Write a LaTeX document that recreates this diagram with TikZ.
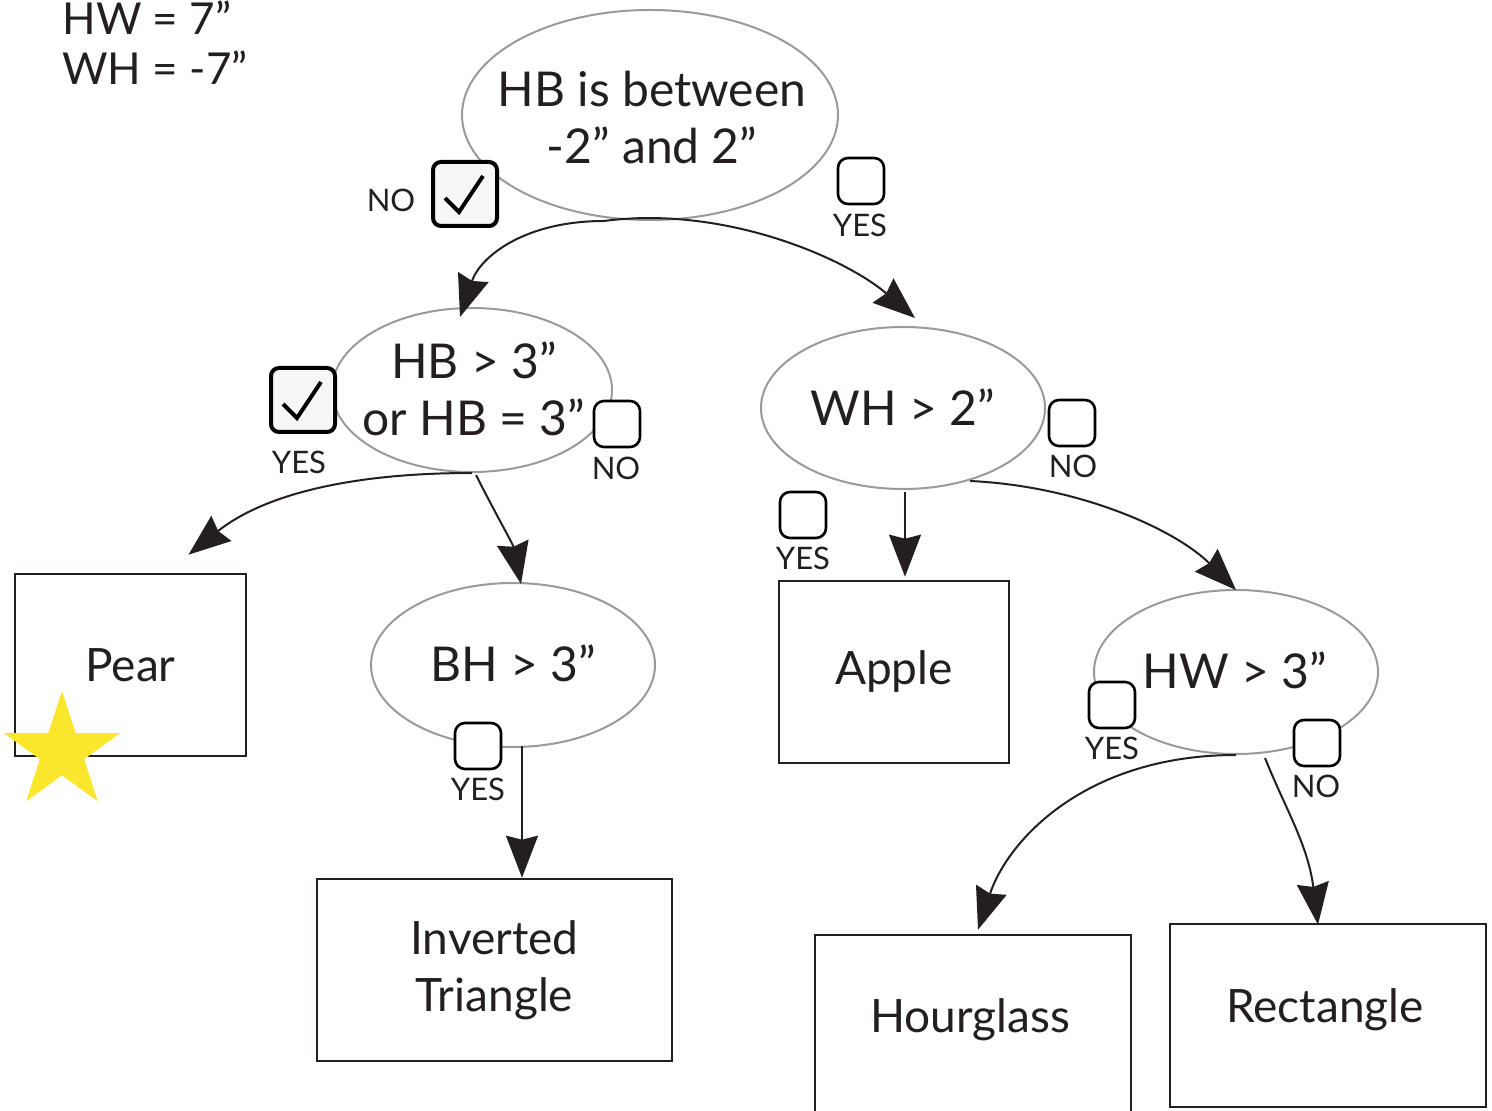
\documentclass[tikz,border=0pt]{standalone}
\usepackage{fontspec}
\setmainfont{Lato}
\usetikzlibrary{shapes.geometric,arrows.meta,calc}
\definecolor{starY}{HTML}{FBE62E}
\definecolor{ellG}{HTML}{9A9A9A}
\definecolor{inkK}{HTML}{231F20}
\tikzset{
  big/.style={font=\fontsize{24pt}{28.5pt}\selectfont},
  mid/.style={font=\fontsize{23pt}{28.5pt}\selectfont},
  small/.style={font=\fontsize{15.5pt}{18pt}\selectfont, text=inkK},
  oval/.style={ellipse, draw=ellG, line width=1pt, inner sep=0pt},
  ovaltext/.style={align=center, big, text=inkK, inner sep=0pt},
  leaf/.style={rectangle, draw=inkK, line width=1.3pt, inner sep=0pt, align=center, mid, text=inkK},
  cbox/.style={rectangle, draw=black, rounded corners=5pt, line width=1.3pt, minimum size=23pt, inner sep=0pt, fill=white},
  cboxon/.style={rectangle, draw=black, rounded corners=4pt, line width=2pt, minimum size=32pt, inner sep=0pt, fill=gray!6},
  conn/.style={draw=inkK, line width=1pt, -{Stealth[length=21pt,width=16pt,inset=2pt]}},
  tick/.style={draw=black, line width=2pt, line join=miter}
}
\begin{document}
\begin{tikzpicture}[x=0.5pt,y=-0.5pt]
\useasboundingbox (0,0) rectangle (1492,1111);
% top-left values
\node[anchor=west, font=\fontsize{22pt}{26pt}\selectfont, text=inkK, inner sep=0pt] (hw) at (62,18) {HW = 7”};
\node[anchor=west, font=\fontsize{22pt}{26pt}\selectfont, text=inkK, inner sep=0pt] (wh) at (62,68) {WH = -7”};

% decision ellipses
\node[oval, minimum width=188pt, minimum height=105pt] (e1) at (650,115) {};
\node[ovaltext] (t1) at (652,118) {HB is between\\-2” and 2”};
\node[oval, minimum width=140pt, minimum height=82pt] (e2) at (472,390) {};
\node[ovaltext] (t2) at (474,389) {HB > 3”\\or HB = 3”};
\node[oval, minimum width=142pt, minimum height=81pt] (e3) at (903,408) {};
\node[ovaltext] (t3) at (903,407) {WH > 2”};
\node[oval, minimum width=142pt, minimum height=82pt] (e4) at (513,665) {};
\node[ovaltext] (t4) at (513,663) {BH > 3”};
\node[oval, minimum width=142pt, minimum height=82pt] (e5) at (1236,672) {};
\node[ovaltext] (t5) at (1235,670) {HW > 3”};

% leaves
\node[leaf, minimum width=115.5pt, minimum height=91pt] (pear) at (130.5,665) {Pear};
\node[leaf, minimum width=115pt, minimum height=91pt] (apple) at (894,672) {Apple};
\node[leaf, minimum width=177.5pt, minimum height=91pt] (it) at (494.5,970) {Inverted\\Triangle};
\node[leaf, minimum width=158pt, minimum height=91pt] (hg) at (973,1026) {};
\node[mid, text=inkK, inner sep=0pt] (hgt) at (970,1020) {Hourglass};
\node[leaf, minimum width=158pt, minimum height=91.5pt] (rect) at (1328,1015.5) {};
\node[mid, text=inkK, inner sep=0pt] (rectt) at (1325,1010) {Rectangle};

% star
\node[star, star points=5, star point ratio=2.618, fill=starY, minimum size=61pt, inner sep=0pt] (st) at (62,752) {};

% checkboxes
\node[cboxon] (c1) at (465,194) {};
\draw[tick] ($(c1.center)+(-20,4)$) -- ($(c1.center)+(-6,18)$) -- ($(c1.center)+(18,-18)$);
\node[small] (l1) at (391,200) {NO};
\node[cbox] (c2) at (861,181) {};
\node[small] (l2) at (860,225) {YES};

\node[cboxon] (c3) at (303,400) {};
\draw[tick] ($(c3.center)+(-20,4)$) -- ($(c3.center)+(-6,18)$) -- ($(c3.center)+(18,-18)$);
\node[small] (l3) at (299,462) {YES};
\node[cbox] (c4) at (617,424) {};
\node[small] (l4) at (616,468) {NO};

\node[cbox] (c5) at (1072,423) {};
\node[small] (l5) at (1073,466) {NO};
\node[cbox] (c6) at (803,515) {};
\node[small] (l6) at (803,558) {YES};

\node[cbox] (c7) at (478,746) {};
\node[small] (l7) at (478,789) {YES};

\node[cbox] (c8) at (1112,705) {};
\node[small] (l8) at (1112,748) {YES};
\node[cbox] (c9) at (1317,743) {};
\node[small] (l9) at (1316,786) {NO};

% connector end points
\coordinate (a5s) at ($(e4.south)+(9,-2)$);
\coordinate (a5e) at (a5s |- it.north);
\coordinate (a6s) at ($(e3.south)+(2,2)$);
\coordinate (a6e) at ($(a6s |- apple.north)+(0,-3)$);

% connectors
\draw[conn] ($(e1.south)+(-46,0)$) .. controls +(-80,0) and +(20,-60) .. ($(e2.north)+(-12,10)$);
\draw[conn] ($(e1.south)+(-46,0)$) .. controls +(120,-16) and +(-70,-60) .. ($(e3.north)+(12,-8)$);
\draw[conn] (e2.south) .. controls +(-170,0) and +(50,-40) .. ($(pear.north)+(58,-18)$);
\draw[conn] ($(e2.south)+(4,2)$) .. controls +(18,36) and +(-8,-40) .. ($(e4.north)+(8,2)$);
\draw[conn] (a5s) -- (a5e);
\draw[conn] (a6s) -- (a6e);
\draw[conn] ($(e3.south)+(67,-9)$) .. controls +(110,5) and +(-60,-60) .. ($(e5.north)+(0,1)$);
\draw[conn] (e5.south) .. controls +(-150,0) and +(30,-90) .. ($(hg.north)+(5,-4)$);
\draw[conn] ($(e5.south)+(29,3)$) .. controls +(20,50) and +(-10,-80) .. ($(rect.north)+(-10,2)$);
\end{tikzpicture}
\end{document}
